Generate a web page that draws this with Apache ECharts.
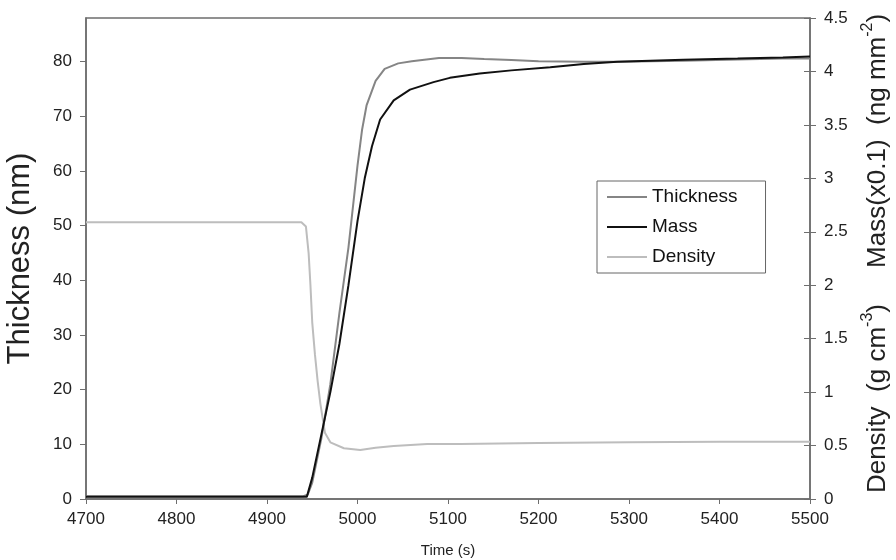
<!DOCTYPE html>
<html lang="en">

<head>
  <meta charset="UTF-8">
  <title>Thickness / Mass / Density</title>
  <script src="https://cdn.jsdelivr.net/npm/echarts@6/dist/echarts.min.js"></script>
  <style>
    * {
      padding: 0;
      margin: 0;
    }

    #box {
      width: 896px;
      height: 560px;
      background: #fff;
    }
  </style>
</head>

<body>
  <div id="box"></div>
  <script>
    // values
    // thickness in nm (left axis)
    var thickTime = [4700, 4940, 4945, 4950, 4960, 4970, 4980, 4990, 5000, 5005, 5010, 5020, 5030, 5045, 5060, 5090, 5115, 5140, 5170, 5200, 5250, 5290, 5360, 5420, 5470, 5500]
    var thickVal = [0.5, 0.5, 0.8, 3, 11, 21, 34, 46, 61, 67.5, 72, 76.5, 78.7, 79.7, 80.1, 80.7, 80.7, 80.5, 80.3, 80.1, 80.0, 80.0, 80.2, 80.4, 80.6, 80.6]
    // mass x0.1 in ng mm-2 (right axis)
    var massTime = [4700, 4944, 4950, 4960, 4970, 4980, 4990, 5000, 5008, 5016, 5025, 5040, 5058, 5084, 5102, 5135, 5170, 5213, 5250, 5287, 5360, 5420, 5470, 5500]
    var massVal = [0.02, 0.02, 0.2, 0.6, 1.0, 1.45, 2.0, 2.6, 3.0, 3.3, 3.55, 3.73, 3.83, 3.9, 3.94, 3.98, 4.01, 4.04, 4.07, 4.09, 4.11, 4.12, 4.13, 4.14]
    // density in g cm-3 (right axis)
    var densTime = [4700, 4938, 4943, 4946, 4948, 4950, 4953, 4956, 4959, 4964, 4970, 4985, 5003, 5020, 5040, 5077, 5114, 5200, 5300, 5400, 5500]
    var densVal = [2.59, 2.59, 2.55, 2.3, 2.0, 1.65, 1.35, 1.1, 0.89, 0.62, 0.53, 0.475, 0.458, 0.48, 0.496, 0.515, 0.515, 0.525, 0.53, 0.535, 0.535]

    var leftTicks = [0, 10, 20, 30, 40, 50, 60, 70, 80]

    function pairs(ts, vs) {
      var arr = []
      for (let i = 0; i < ts.length; i++) {
        arr.push([ts[i], vs[i]])
      }
      return arr
    }

    var font = 'Arial, "Liberation Sans", sans-serif'
    var axisCol = '#6e6e6e'

    var mCharts = echarts.init(document.getElementById('box'))
    var option = {
      animation: false,
      textStyle: { fontFamily: font },
      grid: {
        left: 86, right: 86, top: 18, bottom: 61,
        outerBoundsMode: 'none',
        containLabel: false,
        show: true, borderColor: axisCol, borderWidth: 1.5
      },
      legend: {
        data: ['Thickness', 'Mass', 'Density'],
        orient: 'vertical',
        left: 597,
        top: 181,
        icon: 'rect',
        itemWidth: 40,
        itemHeight: 2,
        itemGap: 10,
        padding: [6, 28, 6, 10],
        borderColor: '#666',
        borderWidth: 1,
        backgroundColor: '#fff',
        textStyle: { fontSize: 19, color: '#111', fontFamily: font, lineHeight: 20 }
      },
      xAxis: {
        type: 'value',
        min: 4700,
        max: 5500,
        interval: 100,
        name: 'Time (s)',
        nameLocation: 'middle',
        nameGap: 44,
        nameTextStyle: { fontSize: 15, color: '#222' },
        axisLine: { lineStyle: { color: axisCol, width: 1.5 } },
        axisTick: { length: 5, lineStyle: { color: axisCol } },
        axisLabel: {
          fontSize: 17, color: '#222', margin: 12,
          formatter: function (v) { return String(v) }
        },
        splitLine: { show: false }
      },
      yAxis: [{
        type: 'value',
        position: 'left',
        min: 0,
        max: 88,
        interval: 10,
        name: 'Thickness (nm)',
        nameLocation: 'middle',
        nameGap: 50,
        nameRotate: 90,
        nameTextStyle: { fontSize: 31, color: '#222' },
        axisLine: { show: true, lineStyle: { color: axisCol, width: 1.5 } },
        axisTick: { show: true, length: 6, customValues: leftTicks, lineStyle: { color: axisCol } },
        axisLabel: { fontSize: 17, color: '#222', margin: 14, customValues: leftTicks },
        splitLine: { show: false }
      }, {
        type: 'value',
        position: 'right',
        min: 0,
        max: 4.5,
        interval: 0.5,
        name: '{n|Density  (g cm}{s|-3}{n|)     Mass(x0.1)  (ng mm}{s|-2}{n|)}',
        nameLocation: 'middle',
        nameGap: 50,
        nameRotate: 90,
        nameTextStyle: {
          color: '#222',
          padding: [0, 0, 0, 10],
          rich: {
            n: { fontSize: 26, color: '#222', fontFamily: font, lineHeight: 36 },
            s: { fontSize: 16, color: '#222', fontFamily: font, verticalAlign: 'top', lineHeight: 36 }
          }
        },
        axisLine: { show: true, lineStyle: { color: axisCol, width: 1.5 } },
        axisTick: { show: true, length: 6, lineStyle: { color: axisCol } },
        axisLabel: { fontSize: 17, color: '#222', margin: 14 },
        splitLine: { show: false }
      }, {
        // inner half of the right axis ticks
        type: 'value',
        position: 'right',
        min: 0,
        max: 4.5,
        interval: 0.5,
        axisLine: { show: false },
        axisTick: { show: true, inside: true, length: 6, lineStyle: { color: axisCol } },
        axisLabel: { show: false },
        splitLine: { show: false }
      }],
      series: [{
        name: 'Density',
        type: 'line',
        yAxisIndex: 1,
        showSymbol: false,
        color: '#bdbdbd',
        lineStyle: { width: 2 },
        data: pairs(densTime, densVal)
      }, {
        name: 'Thickness',
        type: 'line',
        yAxisIndex: 0,
        showSymbol: false,
        color: '#858585',
        lineStyle: { width: 2 },
        data: pairs(thickTime, thickVal)
      }, {
        name: 'Mass',
        type: 'line',
        yAxisIndex: 1,
        showSymbol: false,
        color: '#111111',
        lineStyle: { width: 2 },
        data: pairs(massTime, massVal)
      }]
    }
    mCharts.setOption(option)
  </script>
</body>

</html>
